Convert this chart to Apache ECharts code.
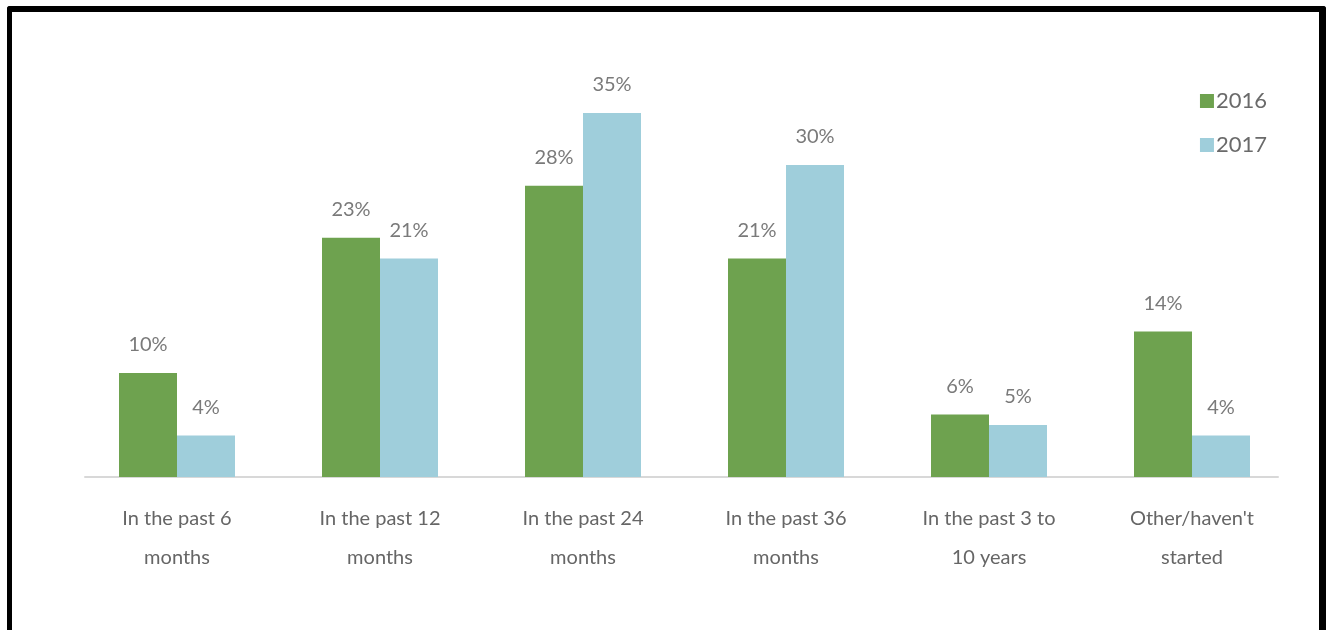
<!DOCTYPE html>
<html>
<head>
<meta charset="utf-8">
<script src="https://cdn.jsdelivr.net/npm/echarts@6/dist/echarts.min.js"></script>
<style>
html,body{margin:0;padding:0;background:#fff;}
#chart{position:absolute;left:0;top:0;width:1330px;height:630px;}
#frame{position:absolute;left:7px;top:6px;width:1307px;height:640px;border-top:6px solid #000;border-left:5px solid #000;border-right:7px solid #000;border-radius:3px 3px 0 0;pointer-events:none;}
</style>
</head>
<body>
<div id="chart"></div>
<div id="frame"></div>
<script>
const categories = ['In the past 6\nmonths', 'In the past 12\nmonths', 'In the past 24\nmonths', 'In the past 36\nmonths', 'In the past 3 to\n10 years', "Other/haven't\nstarted"];
const values2016 = [10, 23, 28, 21, 6, 14];
const values2017 = [4, 21, 35, 30, 5, 4];
const seriesNames = ['2016', '2017'];

const chart = echarts.init(document.getElementById('chart'));
const labelStyle = {
  show: true, position: 'top', distance: 18,
  formatter: '{c}%', color: '#7a7a7a', fontSize: 20, fontFamily: 'Lato'
};
chart.setOption({
  animation: false,
  grid: [
    {left: 75.5, right: 36.5, top: 61, bottom: 153},
    {left: 85, right: 52, top: 61, bottom: 153}
  ],
  legend: {
    orient: 'vertical', right: 58, top: 85, itemWidth: 14, itemHeight: 14,
    itemGap: 22, icon: 'rect',
    textStyle: {color: '#6a6a6a', fontSize: 22, fontFamily: 'Lato', padding: [0,0,0,-3]},
    data: seriesNames
  },
  xAxis: [{
    type: 'category', data: categories,
    axisLine: {show: false},
    axisTick: {show: false},
    axisLabel: {color: '#666', fontSize: 20, fontFamily: 'Lato', margin: 22, lineHeight: 39, interval: 0}
  }, {
    gridIndex: 1, type: 'value', min: 0, max: 1,
    axisLine: {show: true, lineStyle: {color: '#d8d8d8', width: 2}},
    axisTick: {show: false}, axisLabel: {show: false}, splitLine: {show: false}
  }],
  yAxis: [
    {type: 'value', min: 0, max: 40, show: false, splitLine: {show: false}},
    {gridIndex: 1, type: 'value', min: 0, max: 1, show: false, splitLine: {show: false}}
  ],
  series: [
    {name: seriesNames[0], type: 'bar', data: values2016, barWidth: 58, barGap: '0%',
     itemStyle: {color: '#6ea24f'}, label: labelStyle, z: 3},
    {name: seriesNames[1], type: 'bar', data: values2017, barWidth: 58,
     itemStyle: {color: '#9fcedb'}, label: labelStyle, z: 3}
  ]
});
</script>
</body>
</html>
